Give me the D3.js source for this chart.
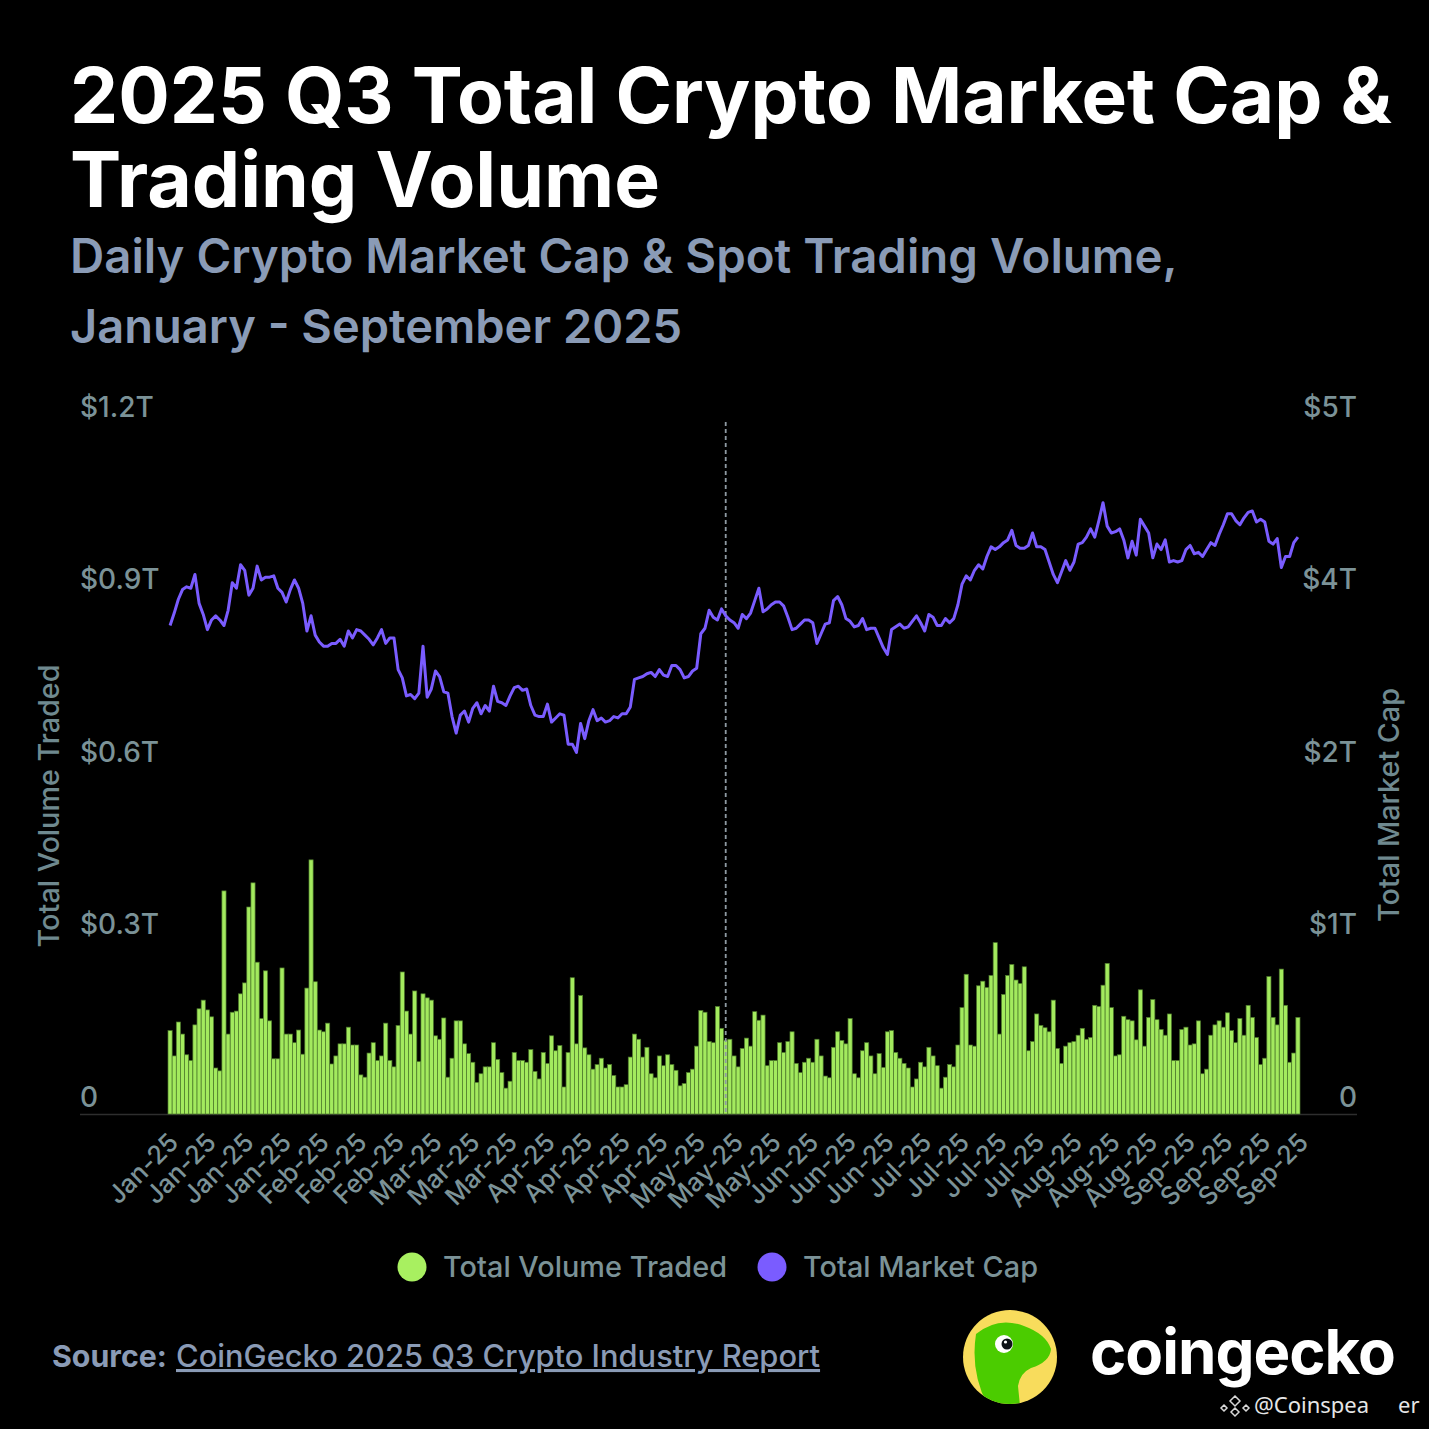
<!DOCTYPE html>
<html>
<head>
<meta charset="utf-8">
<script src="https://cdn.jsdelivr.net/npm/d3@7"></script>
<style>
  html, body { margin: 0; padding: 0; background: #000; }
  svg { display: block; font-family: Inter, "Noto Sans", sans-serif; }
</style>
</head>
<body>
<svg id="chart" width="1429" height="1429"></svg>
<script>
// daily values, 1 Jan - 30 Sep 2025
var volume = [ // total volume traded, $B
  145,101,160,139,103,93,155,183,198,181,
  169,80,75,388,139,177,179,209,228,360,
  402,264,166,249,162,96,96,254,139,139,
  124,146,104,219,442,230,146,143,158,87,
  101,122,122,151,120,120,68,64,106,124,
  93,101,158,93,82,154,247,179,139,214,
  91,209,202,198,136,130,167,64,97,162,
  162,122,105,90,55,70,82,82,124,95,
  72,45,57,107,93,93,90,112,74,61,
  107,88,136,110,119,47,107,237,122,206,
  115,103,78,86,97,80,86,67,47,47,
  51,99,139,130,99,116,70,63,101,84,
  103,86,76,49,53,72,78,118,180,177,
  126,124,187,149,128,130,101,82,114,132,
  118,178,163,172,84,93,93,124,107,126,
  143,88,72,90,97,90,130,101,66,63,
  116,143,128,122,166,70,63,110,124,101,
  70,105,81,143,145,107,97,88,80,47,
  61,90,82,116,101,84,45,64,86,82,
  120,185,243,120,118,223,231,220,241,298,
  139,208,241,260,233,227,256,110,126,174,
  154,150,143,198,114,88,118,124,126,137,
  149,130,133,189,187,224,262,185,101,103,
  170,164,162,129,216,118,168,199,164,147,
  137,174,93,93,147,151,120,122,162,70,
  78,137,155,162,151,176,145,124,166,137,
  189,168,133,86,97,239,168,155,252,189,
  90,106,168
];

var marketCap = [ // total market cap, $T
  3.54,3.63,3.73,3.80,3.82,3.81,3.91,3.70,3.62,3.51,
  3.58,3.61,3.58,3.54,3.65,3.85,3.81,3.98,3.94,3.76,
  3.81,3.97,3.87,3.89,3.89,3.90,3.81,3.78,3.71,3.80,
  3.87,3.81,3.70,3.50,3.61,3.47,3.42,3.39,3.39,3.41,
  3.41,3.44,3.39,3.50,3.45,3.51,3.50,3.47,3.44,3.40,
  3.45,3.51,3.41,3.45,3.45,3.22,3.16,3.03,3.04,3.01,
  3.05,3.39,3.02,3.08,3.21,3.17,3.06,3.05,2.88,2.76,
  2.89,2.92,2.84,2.94,2.98,2.90,2.96,2.92,3.10,2.99,
  2.98,2.96,3.03,3.09,3.10,3.07,3.08,2.96,2.89,2.88,
  2.88,2.97,2.84,2.87,2.90,2.89,2.68,2.68,2.62,2.83,
  2.72,2.85,2.93,2.85,2.87,2.84,2.85,2.88,2.87,2.90,
  2.90,2.95,3.15,3.16,3.17,3.19,3.20,3.17,3.22,3.18,
  3.17,3.25,3.25,3.22,3.16,3.17,3.21,3.23,3.48,3.52,
  3.65,3.60,3.58,3.66,3.61,3.58,3.56,3.52,3.62,3.59,
  3.63,3.72,3.81,3.64,3.66,3.69,3.71,3.71,3.68,3.60,
  3.51,3.52,3.55,3.58,3.58,3.56,3.41,3.48,3.55,3.56,
  3.72,3.75,3.69,3.59,3.57,3.53,3.54,3.59,3.51,3.52,
  3.52,3.45,3.38,3.33,3.51,3.53,3.55,3.52,3.53,3.57,
  3.61,3.56,3.50,3.62,3.60,3.54,3.54,3.59,3.56,3.59,
  3.69,3.84,3.90,3.87,3.94,3.98,3.95,4.04,4.11,4.09,
  4.11,4.14,4.16,4.23,4.12,4.10,4.10,4.12,4.21,4.11,
  4.11,4.09,4.00,3.91,3.85,3.93,4.01,3.94,4.00,4.13,
  4.14,4.18,4.24,4.18,4.30,4.43,4.26,4.21,4.22,4.24,
  4.16,4.03,4.15,4.05,4.31,4.26,4.21,4.03,4.13,4.09,
  4.16,4.00,4.01,4.00,4.01,4.09,4.12,4.06,4.07,4.04,
  4.09,4.14,4.12,4.20,4.27,4.35,4.35,4.30,4.27,4.32,
  4.36,4.37,4.29,4.31,4.29,4.15,4.13,4.17,3.96,4.04,
  4.04,4.14,4.18
];

var xTickLabels = ['Jan-25','Jan-25','Jan-25','Jan-25','Feb-25','Feb-25','Feb-25',
  'Mar-25','Mar-25','Mar-25','Apr-25','Apr-25','Apr-25','Apr-25','May-25','May-25',
  'May-25','Jun-25','Jun-25','Jun-25','Jul-25','Jul-25','Jul-25','Jul-25','Aug-25',
  'Aug-25','Aug-25','Sep-25','Sep-25','Sep-25','Sep-25'];
var leftTicks = [0, 300, 600, 900, 1200];
var leftTickLabels = ['0', '$0.3T', '$0.6T', '$0.9T', '$1.2T'];
var rightTicks = [0, 1.25, 2.5, 3.75, 5];
var rightTickLabels = ['0', '$1T', '$2T', '$4T', '$5T'];
var markerDay = 134; // dashed reference line

var days = d3.utcDays(new Date(Date.UTC(2025, 0, 1)), new Date(Date.UTC(2025, 9, 1)));

var svg = d3.select('#chart');
svg.append('rect').attr('width', 1429).attr('height', 1429).attr('fill', '#000');

var x = d3.scaleBand().domain(d3.range(days.length)).range([168, 1300]).padding(0);
var yVol = d3.scaleLinear().domain([0, 1200]).range([1114, 424]);
var yCap = d3.scaleLinear().domain([0, 5]).range([1114, 424]);
// the category labels are spread evenly under the bars
var xLabel = d3.scalePoint().domain(d3.range(xTickLabels.length)).range([x(0) - 1, x(days.length - 1) + 1]);

// fit a text element to a given width by adjusting the font size
var fitText = function(sel, width) {
    var fs = parseFloat(sel.attr('font-size'));
    var w = sel.node().getComputedTextLength();
    sel.attr('font-size', (fs * width / w).toFixed(2));
    return sel;
};

// titles
fitText(svg.append('text').attr('x', 70).attr('y', 123).attr('fill', '#fff')
    .attr('font-size', 76).attr('font-weight', 700)
    .text('2025 Q3 Total Crypto Market Cap &'), 1322);
fitText(svg.append('text').attr('x', 70).attr('y', 207).attr('fill', '#fff')
    .attr('font-size', 76).attr('font-weight', 700)
    .text('Trading Volume'), 590);
fitText(svg.append('text').attr('x', 70).attr('y', 273).attr('fill', '#8a9bb6')
    .attr('font-size', 46).attr('font-weight', 600)
    .text('Daily Crypto Market Cap & Spot Trading Volume,'), 1108);
fitText(svg.append('text').attr('x', 70).attr('y', 343).attr('fill', '#8a9bb6')
    .attr('font-size', 46).attr('font-weight', 600)
    .text('January - September 2025'), 612);

var tickColor = '#7b9297';

// baseline
svg.append('line').attr('x1', 80).attr('x2', 1357)
    .attr('y1', 1114.5).attr('y2', 1114.5)
    .attr('stroke', '#2e2e2e').attr('stroke-width', 1.5);

// bars
svg.append('g').selectAll('rect')
    .data(volume)
    .enter()
    .append('rect')
    .attr('x', function(d, i) { return x(i); })
    .attr('width', x.bandwidth())
    .attr('y', function(d) { return yVol(d); })
    .attr('height', function(d) { return yVol(0) - yVol(d); })
    .attr('fill', '#a3ea5e')
    .attr('stroke', '#4d7a2c')
    .attr('stroke-width', 0.7);

// dashed reference line
svg.append('line')
    .attr('x1', x(markerDay) + x.bandwidth() / 2).attr('x2', x(markerDay) + x.bandwidth() / 2)
    .attr('y1', 422).attr('y2', 1114)
    .attr('stroke', '#8f9ba3').attr('stroke-width', 1.8)
    .attr('stroke-dasharray', '4,3');

// market cap line
var line = d3.line()
    .x(function(d, i) { return x(i) + x.bandwidth() / 2; })
    .y(function(d) { return yCap(d); });

svg.append('path')
    .datum(marketCap)
    .attr('d', line)
    .attr('fill', 'none')
    .attr('stroke', '#7a5cff')
    .attr('stroke-width', 3)
    .attr('stroke-linejoin', 'round');

// left tick labels (sit above their gridline)
svg.append('g').selectAll('text')
    .data(leftTicks)
    .enter()
    .append('text')
    .attr('x', 80)
    .attr('y', function(d) { return yVol(d) - 17; })
    .attr('dy', '0.35em')
    .attr('fill', tickColor)
    .attr('font-size', 28)
    .attr('font-weight', 500)
    .text(function(d, i) { return leftTickLabels[i]; });

// right tick labels
svg.append('g').selectAll('text')
    .data(rightTicks)
    .enter()
    .append('text')
    .attr('x', 1357)
    .attr('y', function(d) { return yCap(d) - 17; })
    .attr('dy', '0.35em')
    .attr('text-anchor', 'end')
    .attr('fill', tickColor)
    .attr('font-size', 28)
    .attr('font-weight', 500)
    .text(function(d, i) { return rightTickLabels[i]; });

// axis titles
fitText(svg.append('text')
    .attr('transform', 'translate(59,806) rotate(-90)')
    .attr('text-anchor', 'middle')
    .attr('fill', '#6f898f')
    .attr('font-size', 28)
    .attr('font-weight', 500)
    .text('Total Volume Traded'), 283);
fitText(svg.append('text')
    .attr('transform', 'translate(1399,805) rotate(-90)')
    .attr('text-anchor', 'middle')
    .attr('fill', '#6f898f')
    .attr('font-size', 28)
    .attr('font-weight', 500)
    .text('Total Market Cap'), 234);

// x tick labels
svg.append('g').selectAll('text')
    .data(xTickLabels)
    .enter()
    .append('text')
    .attr('transform', function(d, i) {
        return 'translate(' + xLabel(i) + ',1131) rotate(-45)';
    })
    .attr('text-anchor', 'end')
    .attr('dy', '0.72em')
    .attr('fill', tickColor)
    .attr('font-size', 25.5)
    .attr('font-weight', 500)
    .text(function(d) { return d; });

// legend
var legend = [
    {label: 'Total Volume Traded', color: '#a8f060', cx: 412, w: 284},
    {label: 'Total Market Cap', color: '#7a5cff', cx: 772, w: 235}
];
legend.forEach(function(d) {
    svg.append('circle')
        .attr('cx', d.cx)
        .attr('cy', 1267)
        .attr('r', 14.5)
        .attr('fill', d.color);
    fitText(svg.append('text')
        .attr('x', d.cx + 31)
        .attr('y', 1267)
        .attr('dy', '0.36em')
        .attr('fill', tickColor)
        .attr('font-size', 28)
        .attr('font-weight', 500)
        .text(d.label), d.w);
});

// source
fitText(svg.append('text').attr('x', 52).attr('y', 1367)
    .attr('fill', '#8a9bb6').attr('font-size', 28).attr('font-weight', 700)
    .text('Source:'), 115);
fitText(svg.append('text').attr('x', 176).attr('y', 1367)
    .attr('fill', '#8a9bb6').attr('font-size', 28).attr('font-weight', 500)
    .attr('text-decoration', 'underline')
    .text('CoinGecko 2025 Q3 Crypto Industry Report'), 644);

// coingecko logo
var logo = svg.append('g');
logo.append('clipPath').attr('id', 'logoClip')
    .append('circle').attr('cx', 1010).attr('cy', 1357).attr('r', 47);
logo.append('circle').attr('cx', 1010).attr('cy', 1357).attr('r', 47).attr('fill', '#f8dc5c');
logo.append('path')
    .attr('clip-path', 'url(#logoClip)')
    .attr('d', 'M976 1334 Q998 1316 1024 1326 Q1046 1334 1051 1349 Q1050 1362 1031 1368 Q1020 1373 1018 1386 L1020 1406 L988 1406 Q970 1372 976 1334 Z')
    .attr('fill', '#4bcc00');
logo.append('circle').attr('cx', 1004).attr('cy', 1344).attr('r', 9).attr('fill', '#fff');
logo.append('circle').attr('cx', 1007).attr('cy', 1344).attr('r', 5.5).attr('fill', '#0d1217');
logo.append('circle').attr('cx', 1005.5).attr('cy', 1342).attr('r', 1.6).attr('fill', '#fff');

fitText(svg.append('text').attr('x', 1090).attr('y', 1374).attr('fill', '#fff')
    .attr('font-size', 62).attr('font-weight', 700).attr('letter-spacing', -1)
    .text('coingecko'), 305);

// watermark
var wm = svg.append('g').attr('fill', '#e6e6e6');
wm.append('path')
    .attr('d', 'M1235 1396 l5 5 l-5 5 l-5 -5 Z M1235 1408 l4 4 l-4 4 l-4 -4 Z M1224 1405 l3 3 l-3 3 l-3 -3 Z M1246 1405 l3 3 l-3 3 l-3 -3 Z')
    .attr('fill', 'none').attr('stroke', '#d8d8d8').attr('stroke-width', 1.5);
wm.append('text').attr('x', 1254).attr('y', 1413).attr('font-family', '"Noto Sans", sans-serif')
    .attr('font-size', 22).text('@Coinspea');
wm.append('text').attr('x', 1398).attr('y', 1413).attr('font-family', '"Noto Sans", sans-serif')
    .attr('font-size', 22).text('er');
</script>
</body>
</html>
